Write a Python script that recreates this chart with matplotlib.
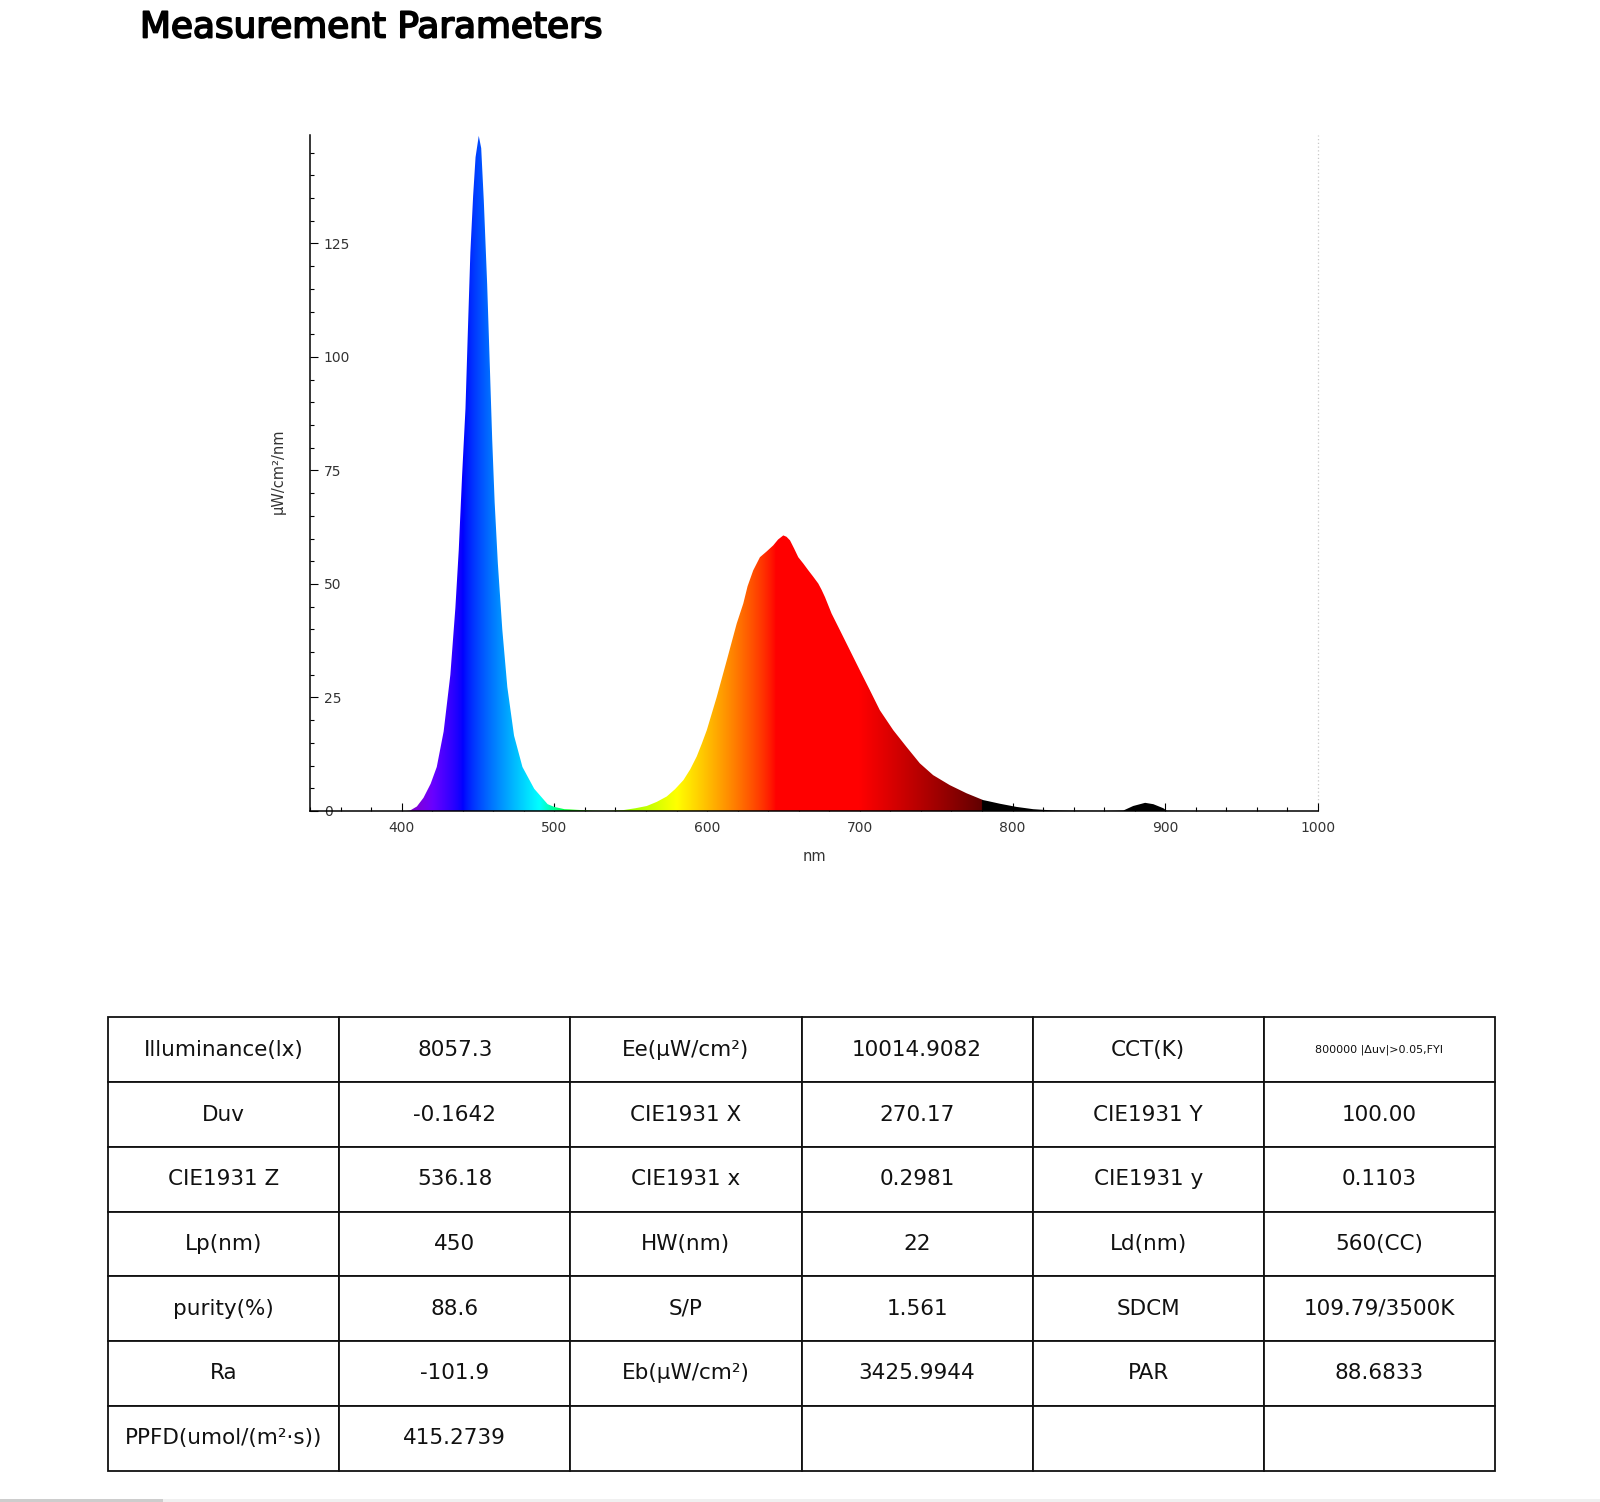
import numpy as np
import matplotlib
matplotlib.use('Agg')
import matplotlib.pyplot as plt
from matplotlib.ticker import MultipleLocator, FixedLocator
from matplotlib.patches import Rectangle
import matplotlib.patheffects as pe

# ---------------- data ----------------
wavelength_nm = [340, 400, 403, 405.5, 410, 414.3, 419, 423, 427.5, 431.9, 435.2, 437.4,
                 439.6, 441.8, 443.3, 445, 446.8, 448.4, 450.5, 452.1, 453.8, 456,
                 457.8, 459.3, 460.9, 463, 465.9, 469.2, 473.6, 479.1, 486.8, 495.6,
                 500, 506.6, 515, 525, 535,
                 545.2, 553, 560.5, 567, 573.6, 579, 584.5, 589, 593.2, 596.5, 599.8,
                 606.3, 612.9, 619.4, 623.7, 626.5, 630.2, 634.6, 639.1, 643.3, 646.5,
                 649.9, 652, 654.3, 657, 659.7, 663, 666.3, 669.5, 672.8, 675, 677.2,
                 681.5, 687, 693.5, 700, 706.6, 713.1, 721.9, 730.6, 739.3, 748,
                 758.9, 769.9, 780.8, 785, 791.7, 802.6, 809.2, 813.5, 818, 825.6,
                 840, 860, 872.5, 879, 886.8, 892.2, 898.8, 901, 920, 1000]
irradiance = [0, 0, 0, 0.1, 1.0, 2.9, 6.0, 9.7, 17.5, 30, 44.8, 57.5,
              74, 88.6, 105, 123, 135.4, 144, 148.7, 146, 134.4, 116,
              97.4, 81.8, 68, 54.5, 40, 27.3, 16.6, 9.7, 4.9, 1.5,
              0.9, 0.4, 0.25, 0.1, 0.05,
              0.2, 0.6, 1.1, 2.0, 3.2, 4.8, 6.8, 9.2, 12, 14.8, 17.8,
              25.1, 33.2, 41.3, 45.7, 49.5, 53, 55.9, 57.2, 58.5, 59.8,
              60.7, 60.4, 59.6, 57.8, 55.9, 54.5, 53, 51.6, 50.1, 48.7, 47.1,
              43.5, 39.8, 35.4, 31, 26.6, 22.2, 17.8, 14.1, 10.5, 7.9,
              5.7, 3.9, 2.4, 2.1, 1.6, 0.9, 0.6, 0.4, 0.3, 0.15,
              0.05, 0.02, 0.1, 1.1, 1.8, 1.5, 0.6, 0.05, 0, 0]

x_major_ticks = [400, 500, 600, 700, 800, 900, 1000]
y_major_ticks = [0, 25, 50, 75, 100, 125]
x_limits = (340, 1000)
y_limits = (0, 149)

title_text = "Measurement Parameters"
x_label = "nm"
y_label = "μW/cm²/nm"

table_rows = [
    ["Illuminance(lx)", "8057.3", "Ee(μW/cm²)", "10014.9082", "CCT(K)", "800000 |Δuv|>0.05,FYI"],
    ["Duv", "-0.1642", "CIE1931 X", "270.17", "CIE1931 Y", "100.00"],
    ["CIE1931 Z", "536.18", "CIE1931 x", "0.2981", "CIE1931 y", "0.1103"],
    ["Lp(nm)", "450", "HW(nm)", "22", "Ld(nm)", "560(CC)"],
    ["purity(%)", "88.6", "S/P", "1.561", "SDCM", "109.79/3500K"],
    ["Ra", "-101.9", "Eb(μW/cm²)", "3425.9944", "PAR", "88.6833"],
    ["PPFD(umol/(m²·s))", "415.2739", "", "", "", ""],
]


def wavelength_rgb(w):
    w = np.asarray(w, float)
    r = np.zeros_like(w); g = np.zeros_like(w); b = np.zeros_like(w)
    m = (w >= 380) & (w < 440); r[m] = -(w[m] - 440) / 60; b[m] = 1
    m = (w >= 440) & (w < 490); g[m] = (w[m] - 440) / 50; b[m] = 1
    m = (w >= 490) & (w < 510); g[m] = 1; b[m] = -(w[m] - 510) / 20
    m = (w >= 510) & (w < 580); r[m] = (w[m] - 510) / 70; g[m] = 1
    m = (w >= 580) & (w < 645); r[m] = 1; g[m] = -(w[m] - 645) / 65
    m = (w >= 645) & (w <= 780); r[m] = 1
    f = np.zeros_like(w)
    m = (w >= 380) & (w < 420); f[m] = 0.3 + 0.7 * (w[m] - 380) / 40
    m = (w >= 420) & (w <= 700); f[m] = 1
    m = (w > 700) & (w <= 780); f[m] = 0.3 + 0.7 * (780 - w[m]) / 80
    gamma = 0.8
    return np.clip(np.stack([(c * f) ** gamma for c in (r, g, b)], -1), 0, 1)


W, H = 1600, 1502
fig = plt.figure(figsize=(W / 100, H / 100), dpi=100)
fig.patch.set_facecolor('white')

# title
fig.text(140 / W, 1 - 37.5 / H, title_text, fontsize=25.8, family='DejaVu Sans',
         ha='left', va='baseline', color='black',
         path_effects=[pe.withStroke(linewidth=1.3, foreground='black')])

# ---------------- spectrum axes ----------------
ax_left, ax_right = 310 / W, 1318 / W
ax_bottom, ax_top = 1 - 811 / H, 1 - 134.5 / H
ax = fig.add_axes([ax_left, ax_bottom, ax_right - ax_left, ax_top - ax_bottom])
ax.set_xlim(*x_limits)
ax.set_ylim(*y_limits)

poly = ax.fill_between(wavelength_nm, irradiance, color='none', lw=0)
grid_wl = np.linspace(x_limits[0], x_limits[1], 1320)
rgb = wavelength_rgb(grid_wl)[np.newaxis, :, :]
im = ax.imshow(rgb, extent=[x_limits[0], x_limits[1], y_limits[0], y_limits[1]],
               aspect='auto', interpolation='bilinear', origin='lower', zorder=2)
im.set_clip_path(poly.get_paths()[0], transform=ax.transData)

ax.axvline(1000, ls=(0, (1, 2)), color='#c8c8c8', lw=0.9, zorder=1, clip_on=False)

for s in ['top', 'right']:
    ax.spines[s].set_visible(False)
for s in ['left', 'bottom']:
    ax.spines[s].set_linewidth(1.1)
    ax.spines[s].set_color('black')
    ax.spines[s].set_zorder(3)

ax.xaxis.set_major_locator(FixedLocator(x_major_ticks))
ax.xaxis.set_minor_locator(MultipleLocator(20))
ax.yaxis.set_major_locator(FixedLocator(y_major_ticks))
ax.yaxis.set_minor_locator(MultipleLocator(5))
ax.tick_params(which='both', direction='in', color='black', width=0.8)
ax.tick_params(which='major', length=6)
ax.tick_params(which='minor', length=3)
ax.tick_params(axis='x', which='major', labelsize=10, labelcolor='#333333', pad=7)
ax.tick_params(axis='y', which='major', labelsize=10, labelcolor='#333333', pad=-10)
for lbl in ax.get_yticklabels():
    lbl.set_horizontalalignment('left')

ax.set_xlabel(x_label, fontsize=10.5, color='#333333', labelpad=10)
ax.set_ylabel(y_label, fontsize=10.5, color='#333333', labelpad=8)
ax.yaxis.set_label_coords((285.7 - 310) / (1318 - 310), (811 - 471) / (811 - 134.5))

# ---------------- parameter table ----------------
tx0, tx1 = 108 / W, 1495 / W
ty0, ty1 = 1 - 1470.5 / H, 1 - 1017.5 / H
ax_t = fig.add_axes([tx0, ty0, tx1 - tx0, ty1 - ty0])
ax_t.set_axis_off()
tbl = ax_t.table(cellText=table_rows, cellLoc='center', bbox=[0, 0, 1, 1])
tbl.auto_set_font_size(False)
tbl.set_fontsize(15.5)
for (r, c), cell in tbl.get_celld().items():
    cell.set_linewidth(1.3)
    cell.set_edgecolor('#111111')
    cell.get_text().set_color('#111111')
    cell.get_text().set_family('DejaVu Sans')
tbl[0, 5].get_text().set_fontsize(8)

# bottom scrollbar-like strip
fig.patches.append(Rectangle((0, 0), 1, 3 / H, transform=fig.transFigure,
                             color='#f0f0f0', lw=0))
fig.patches.append(Rectangle((0, 0), 163 / W, 3 / H, transform=fig.transFigure,
                             color='#cdcdcd', lw=0))

fig.savefig('out.png', dpi=100, facecolor='white')
